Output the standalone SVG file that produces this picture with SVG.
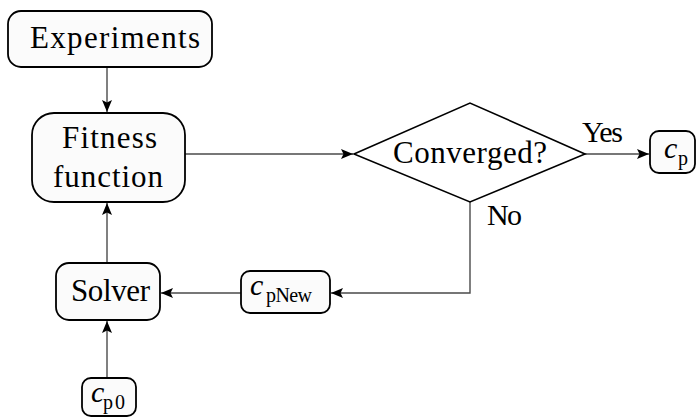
<svg xmlns="http://www.w3.org/2000/svg" width="697" height="418" viewBox="0 0 697 418">
<defs>
<style>
.box{fill:#fbfbfb;stroke:#000;stroke-width:1.8}
.dia{fill:#fff;stroke:#000;stroke-width:1.6}
.e{fill:none;stroke:#4a4a4a;stroke-width:1.4}
</style>
<marker id="ah" viewBox="0 0 12 10" refX="12" refY="5" markerWidth="12" markerHeight="10" markerUnits="userSpaceOnUse" orient="auto">
<path d="M0,0 L12,5 L0,10 L2.5,5 Z" fill="#000"/>
</marker>
</defs>
<rect width="697" height="418" fill="#fff"/>
<g id="connectors">
<path class="e" d="M107,68 V112" marker-end="url(#ah)"/>
<path class="e" d="M185,154 H353" marker-end="url(#ah)"/>
<path class="e" d="M585,154 H649" marker-end="url(#ah)"/>
<path class="e" d="M470,202 V293 H331" marker-end="url(#ah)"/>
<path class="e" d="M241,293 H161" marker-end="url(#ah)"/>
<path class="e" d="M107,263 V203" marker-end="url(#ah)"/>
<path class="e" d="M107,378 V321" marker-end="url(#ah)"/>
<text x="582" y="142" font-family="Liberation Serif" font-size="30" textLength="41" lengthAdjust="spacing">Yes</text>
<text x="487" y="225" font-family="Liberation Serif" font-size="30" textLength="35" lengthAdjust="spacing">No</text>
</g>
<g id="experiments">
<rect class="box" x="8" y="11" width="204" height="56" rx="13"/>
<text x="30" y="48" font-family="Liberation Serif" font-size="31" textLength="170" lengthAdjust="spacing">Experiments</text>
</g>
<g id="fitness">
<rect class="box" x="32" y="113" width="153" height="89" rx="22"/>
<text x="62" y="148" font-family="Liberation Serif" font-size="31" textLength="95" lengthAdjust="spacing">Fitness</text>
<text x="53" y="187" font-family="Liberation Serif" font-size="31" textLength="110" lengthAdjust="spacing">function</text>
</g>
<g id="converged">
<polygon class="dia" points="354,154 470,103 585,154 470,202"/>
<text x="393" y="163" font-family="Liberation Serif" font-size="31" textLength="154" lengthAdjust="spacing">Converged?</text>
</g>
<g id="cp">
<rect class="box" x="650" y="131" width="45" height="42" rx="9"/>
<text x="664" y="158" font-family="Liberation Serif" font-size="30" font-style="italic">c</text>
<text x="678" y="165" font-family="Liberation Serif" font-size="20">p</text>
</g>
<g id="cpnew">
<rect class="box" x="241" y="271" width="89" height="42" rx="9"/>
<text x="250" y="295" font-family="Liberation Serif" font-size="30" font-style="italic">c</text>
<text x="266" y="302" font-family="Liberation Serif" font-size="20" textLength="46" lengthAdjust="spacing">pNew</text>
</g>
<g id="solver">
<rect class="box" x="56" y="263" width="104" height="57" rx="13"/>
<text x="71" y="301" font-family="Liberation Serif" font-size="31" textLength="79" lengthAdjust="spacing">Solver</text>
</g>
<g id="cp0">
<rect class="box" x="82" y="378" width="54" height="38" rx="9"/>
<text x="91" y="402" font-family="Liberation Serif" font-size="30" font-style="italic">c</text>
<text x="103" y="409" font-family="Liberation Serif" font-size="20" textLength="22" lengthAdjust="spacing">p0</text>
</g>
</svg>
